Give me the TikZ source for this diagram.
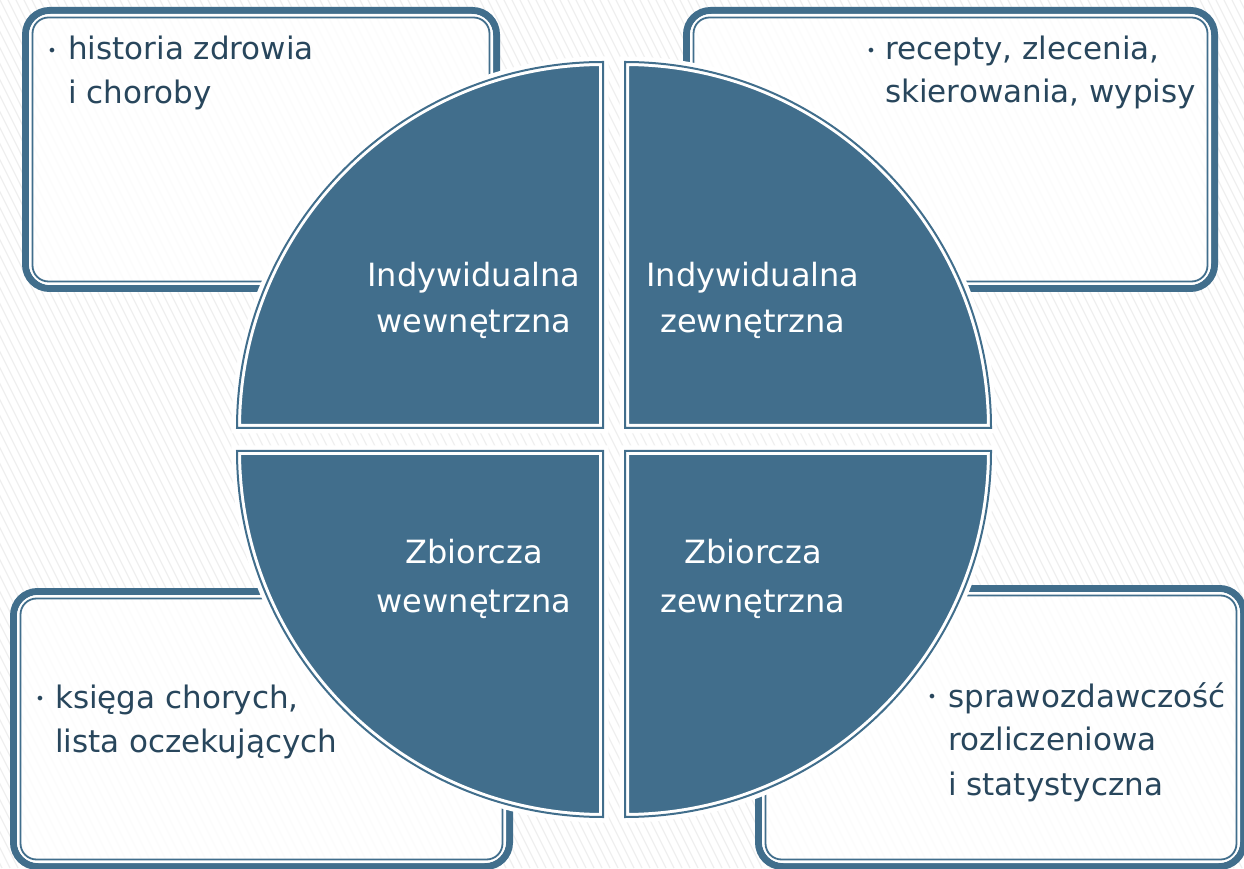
\documentclass[tikz,border=0pt]{standalone}
\usepackage{fontspec}
\setmainfont{DejaVu Sans}
\definecolor{qblue}{RGB}{65,110,140}
\definecolor{tdark}{RGB}{40,70,92}
\definecolor{hatchc}{RGB}{239,239,239}
\tikzset{
  boxthick/.style={draw=qblue, line width=7pt, rounded corners=24pt},
  boxgap/.style={draw=white, line width=3pt, rounded corners=20pt},
  boxthin/.style={draw=qblue, line width=1.8pt, rounded corners=16pt},
  boxfill/.style={fill=white, fill opacity=0.85, rounded corners=27pt},
  qtext/.style={text=white, font=\fontsize{32}{40}\selectfont, inner sep=0pt, anchor=base},
  btext/.style={text=tdark, font=\fontsize{31}{40}\selectfont, inner sep=0pt, anchor=base west},
  bullet/.style={text=tdark, font=\fontsize{16}{20}\selectfont, inner sep=0pt, anchor=center},
}
\newcommand{\infobox}[4]{%
  \fill[boxfill] (#1,#2) rectangle (#3,#4);
  \draw[boxthick] (#1+3.5,#2+3.5) rectangle (#3-3.5,#4-3.5);
  \draw[boxgap] (#1+8.5,#2+8.5) rectangle (#3-8.5,#4-8.5);
  \draw[boxthin] (#1+10.5,#2+10.5) rectangle (#3-10.5,#4-10.5);
}
\newcommand{\quadr}[3]{% corner x, corner y, start angle
  \filldraw[white, line width=11pt, line join=miter] (#1,#2) -- ++(#3:366) arc[start angle=#3, end angle=#3+90, radius=366] -- cycle;
  \fill[qblue] (#1,#2) -- ++(#3:366) arc[start angle=#3, end angle=#3+90, radius=366] -- cycle;
  \draw[white, line width=8pt, line join=miter] (#1,#2) -- ++(#3:366) arc[start angle=#3, end angle=#3+90, radius=366] -- cycle;
  \draw[qblue, line width=2pt, line join=miter] (#1,#2) -- ++(#3:366) arc[start angle=#3, end angle=#3+90, radius=366] -- cycle;
}
\begin{document}
\begin{tikzpicture}[x=1pt,y=1pt]
\useasboundingbox (0,0) rectangle (1244,868);
\fill[white] (0,0) rectangle (1244,868);
\begin{scope}
\clip (0,0) rectangle (1244,868);
\foreach \x in {-440,-432,...,1244} \draw[hatchc, line width=1.3pt] (\x,868) -- (\x+434,0);
% boxes
\infobox{22}{576}{500}{861}
\infobox{683}{576}{1218}{861}
\infobox{10}{-2}{513}{280}
\infobox{755}{-2}{1247}{283}
% quadrants
\quadr{603}{440}{90}
\quadr{625}{440}{0}
\quadr{603}{417}{180}
\quadr{625}{417}{270}
\end{scope}
% quadrant texts
\node[qtext] (q1a) at (474,581) {Indywidualna};
\node[qtext] (q1b) at (474,535) {wewnętrzna};
\node[qtext] (q2a) at (753,581) {Indywidualna};
\node[qtext] (q2b) at (753,535) {zewnętrzna};
\node[qtext] (q3a) at (474,305) {Zbiorcza};
\node[qtext] (q3b) at (474,256) {wewnętrzna};
\node[qtext] (q4a) at (753,305) {Zbiorcza};
\node[qtext] (q4b) at (753,256) {zewnętrzna};
% box texts
\node[bullet] (b1) at (52,816) {•};
\node[btext] (t1a) at (68,808) {historia zdrowia};
\node[btext] (t1b) at (68,764) {i choroby};
\node[bullet] (b2) at (871,816) {•};
\node[btext] (t2a) at (885,808) {recepty, zlecenia,};
\node[btext] (t2b) at (885,765) {skierowania, wypisy};
\node[bullet] (b3) at (40,168) {•};
\node[btext] (t3a) at (55,160) {księga chorych,};
\node[btext] (t3b) at (55,116) {lista oczekujących};
\node[bullet] (b4) at (932,170) {•};
\node[btext] (t4a) at (948,161) {sprawozdawczość};
\node[btext] (t4b) at (948,118) {rozliczeniowa};
\node[btext] (t4c) at (948,73) {i statystyczna};
\end{tikzpicture}
\end{document}
